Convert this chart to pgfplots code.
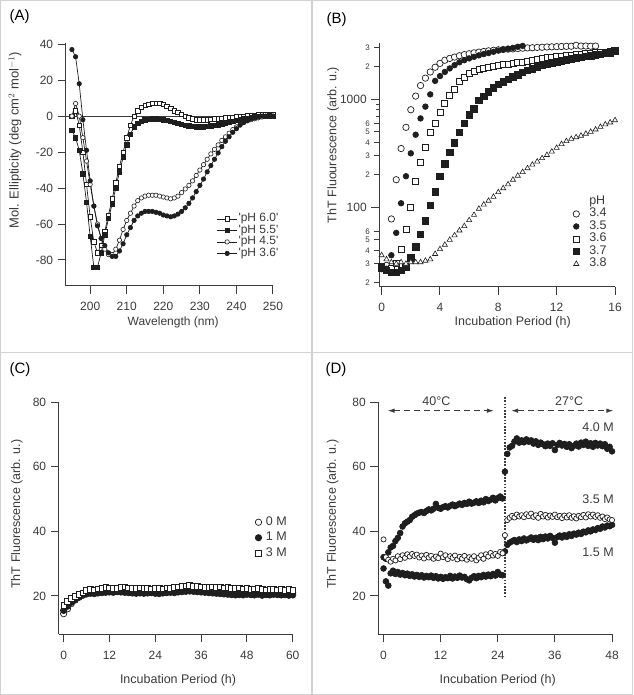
\documentclass[border=0pt]{standalone}
\usepackage{fontspec}
\setmainfont{Liberation Sans}
\usepackage{pgfplots}
\pgfplotsset{compat=1.18}
\usetikzlibrary{arrows.meta}

\definecolor{axc}{HTML}{3C3C3C}
\definecolor{txc}{HTML}{3A3A3A}
\definecolor{mk}{HTML}{1E1E1E}
\definecolor{frm}{HTML}{D2D2D2}

\newcommand{\lblfont}{\fontsize{12.5}{14}\selectfont}
\pgfplotsset{
  panel/.style={scale only axis, axis x line*=bottom, axis y line*=left,
    tick align=outside, major tick length=8pt,
    axis line style={axc, line width=1pt},
    every tick/.style={axc, line width=1pt},
    /pgf/number format/assume math mode=true,
    tick label style={font=\fontsize{12}{14}\selectfont, text=txc},
    xticklabel style={yshift=-5pt},
    yticklabel style={xshift=-1pt},
    clip=false},
  ptleg/.style={legend style={draw=none, fill=none, font=\lblfont, text=txc,
      legend cell align=left, inner sep=0pt, row sep=0pt,
      nodes={inner sep=1pt, text height=8pt, text depth=2.5pt}}},
}

\begin{document}
\begin{tikzpicture}
\path[use as bounding box] (0pt,0pt) rectangle (633pt,695pt);
\draw[frm, line width=1.3pt] (0.7pt,0.7pt) rectangle (632.3pt,694.3pt);
\draw[frm, line width=1.3pt] (312pt,0pt) -- (312pt,695pt);
\draw[frm, line width=1.3pt] (0pt,342.3pt) -- (633pt,342.3pt);

\node[anchor=west, font=\fontsize{15}{17}\selectfont] at (6pt,678pt) {(A)};
\node[anchor=west, font=\fontsize{15}{17}\selectfont] at (323pt,675.5pt) {(B)};
\node[anchor=west, font=\fontsize{15}{17}\selectfont] at (6pt,325.5pt) {(C)};
\node[anchor=west, font=\fontsize{15}{17}\selectfont] at (322pt,325pt) {(D)};

% (A) CD spectra
\begin{axis}[panel, at={(65.7pt,409.3pt)}, anchor=south west,
  width=207.3pt, height=242.4pt,
  xmin=193.3, xmax=250, ymin=-94.3, ymax=40.5,
  xtick={200,210,...,250}, ytick={-80,-60,...,40},
  xlabel={Wavelength (nm)},
  ylabel={Mol. Ellipticity (deg cm$^{2}$ mol$^{-1}$)},
  every axis x label/.style={at={(rel axis cs:0.518,-0.153)}, anchor=center, font=\fontsize{12}{14}\selectfont, text=txc},
  every axis y label/.style={at={(rel axis cs:-0.245,0.6)}, anchor=center, rotate=90, font=\fontsize{13}{15}\selectfont, text=txc},
  legend style={at={(rel axis cs:0.728,0.30)}, anchor=north west, draw=none, fill=none,
    font=\fontsize{12}{14}\selectfont, text=txc, legend cell align=left, inner sep=0pt,
    nodes={inner sep=1pt, text height=7.5pt, text depth=2pt}},
  legend image code/.code={\draw[mark repeat=2,mark phase=2,#1] plot coordinates {(0pt,0pt) (10pt,0pt) (20pt,0pt)};},
  every axis plot/.append style={mk, line width=0.7pt, mark size=2.2pt}]
\addplot[axc, line width=0.9pt, forget plot] coordinates {(193.3,0) (250,0)};
\addplot[mark=square*, mark options={fill=white, line width=0.6pt}] coordinates {
(195,0)(196,3)(197,-5)(198,-20)(199,-38)(200,-56)(201,-70)(202,-76)(203,-72)(204,-64)
(205,-55)(206,-46)(207,-37)(208,-28)(209,-20)(210,-12)(211,-5)(212,0)(213,3)(214,5)
(215,6)(216,6.5)(217,7)(218,7)(219,7)(220,6.5)(221,5.5)(222,4.5)(223,3)(224,2)
(225,1)(226,0)(227,-1)(228,-1.5)(229,-2)(230,-2)(231,-2)(232,-2)(233,-1.8)(234,-1.6)
(235,-1.4)(236,-1.2)(237,-1)(238,-0.8)(239,-0.6)(240,-0.4)(241,-0.2)(242,0)(243,0.2)(244,0.4)
(245,0.6)(246,0.8)(247,1)(248,1)(249,1)(250,1)};
\addlegendentry{\textquotesingle pH 6.0\textquotesingle}
\addplot[mark=square*, mark options={fill=mk}] coordinates {
(195,-8)(196,-12)(197,-19)(198,-32)(199,-48)(200,-67)(201,-84)(202,-84)(203,-76)(204,-66)
(205,-57)(206,-49)(207,-40)(208,-31)(209,-23)(210,-16)(211,-10)(212,-6)(213,-4)(214,-3)
(215,-2)(216,-1.8)(217,-1.5)(218,-1.5)(219,-1.8)(220,-2)(221,-2.5)(222,-3)(223,-3.5)(224,-4)
(225,-4.5)(226,-5)(227,-5.5)(228,-5.8)(229,-6)(230,-6)(231,-6)(232,-5.8)(233,-5.5)(234,-5.2)
(235,-4.8)(236,-4.4)(237,-4)(238,-3.5)(239,-3)(240,-2.5)(241,-2)(242,-1.5)(243,-1.2)(244,-0.8)
(245,-0.5)(246,-0.2)(247,0)(248,0)(249,0.2)(250,0)};
\addlegendentry{\textquotesingle pH 5.5\textquotesingle}
\addplot[mark=*, mark options={fill=white, line width=0.6pt}] coordinates {
(195,0)(196,7)(197,0)(198,-12)(199,-25)(200,-38)(201,-50)(202,-60)(203,-68)(204,-74)
(205,-77)(206,-77)(207,-74)(208,-69)(209,-63)(210,-58)(211,-54)(212,-50)(213,-47)(214,-45.5)
(215,-44.5)(216,-44)(217,-44)(218,-44)(219,-44.5)(220,-45)(221,-45.5)(222,-46)(223,-45.5)(224,-44.5)
(225,-42.5)(226,-40.5)(227,-38.5)(228,-36)(229,-33)(230,-30)(231,-27)(232,-24)(233,-21)(234,-18.5)
(235,-16)(236,-13.5)(237,-11.5)(238,-9.5)(239,-7.5)(240,-6)(241,-4.8)(242,-3.6)(243,-2.6)(244,-2)
(245,-1.5)(246,-1)(247,-0.5)(248,0)(249,0)(250,0)};
\addlegendentry{\textquotesingle pH 4.5\textquotesingle}
\addplot[mark=*, mark options={fill=mk}] coordinates {
(195,37)(196,33)(197,18)(198,-2)(199,-19)(200,-36)(201,-50)(202,-61)(203,-68)(204,-72)
(205,-76)(206,-78)(207,-78)(208,-75)(209,-71)(210,-66)(211,-62)(212,-58)(213,-55.5)(214,-54)
(215,-53)(216,-53)(217,-53)(218,-53.5)(219,-54)(220,-55)(221,-55.5)(222,-56)(223,-55.5)(224,-54.5)
(225,-53)(226,-51)(227,-48.5)(228,-45.5)(229,-42)(230,-38.5)(231,-35)(232,-31)(233,-27.5)(234,-24)
(235,-20.5)(236,-17)(237,-14)(238,-11.5)(239,-9)(240,-7)(241,-5)(242,-3.5)(243,-2.5)(244,-1.5)
(245,-1)(246,-0.5)(247,0)(248,0)(249,0)(250,0)};
\addlegendentry{\textquotesingle pH 3.6\textquotesingle}
\end{axis}

% (B) ThT kinetics vs pH
\begin{axis}[panel, ptleg, at={(379.3pt,408pt)}, anchor=south west,
  width=235.7pt, height=244pt, ymode=log,
  xmin=-0.16, xmax=16, ymin=18.3, ymax=3320,
  xtick={0,4,...,16}, ytick={100,1000}, yticklabels={100,1000},
  extra y ticks={20,30,40,50,60,200,300,400,500,600,2000,3000},
  extra y tick labels={2,3,4,5,6,2,3,4,5,6,2,3},
  extra y tick style={major tick length=5pt, tick label style={font=\fontsize{8}{9}\selectfont}},
  xlabel={Incubation Period (h)},
  ylabel={ThT Fluourescence (arb. u.)},
  every axis x label/.style={at={(rel axis cs:0.566,-0.146)}, anchor=center, font=\lblfont, text=txc},
  every axis y label/.style={at={(rel axis cs:-0.196,0.582)}, anchor=center, rotate=90, font=\lblfont, text=txc},
  legend style={at={(rel axis cs:0.82,0.377)}, anchor=north west},
  legend image code/.code={\draw[#1] plot coordinates {(0pt,0pt)}; \path[draw=none, fill=none] (-3.5pt,-0.1pt) rectangle (12pt,0.1pt);},
  every axis plot/.append style={mk, only marks, line width=0.7pt}]
\addlegendimage{empty legend}
\addlegendentry{pH}
\addplot[mark=*, mark size=3.2pt, mark options={fill=white}] coordinates {
(0,27)(0.333,29)(0.667,78)(1,180)(1.333,350)(1.667,550)(2,800)(2.333,1070)(2.667,1340)(3,1570)
(3.333,1790)(3.667,1980)(4,2150)(4.333,2300)(4.667,2390)(5,2460)(5.333,2530)(5.667,2590)(6,2640)(6.333,2690)
(6.667,2730)(7,2770)(7.333,2810)(7.667,2840)(8,2870)(8.333,2890)(8.667,2910)(9,2930)(9.333,2950)(9.667,2970)
(10,2990)(10.333,3000)(10.667,3020)(11,3030)(11.333,3050)(11.667,3060)(12,3070)(12.333,3080)(12.667,3090)(13,3100)
(13.333,3160)(13.667,3110)(14,3110)(14.333,3100)(14.667,3110)};
\addlegendentry{3.4}
\addplot[mark=*, mark size=2.8pt, mark options={fill=mk}] coordinates {
(0,28)(0.333,27)(0.667,36)(1,58)(1.333,109)(1.667,194)(2,316)(2.333,470)(2.667,665)(3,855)
(3.333,1110)(3.667,1480)(4,1640)(4.333,1790)(4.667,1930)(5,2070)(5.333,2200)(5.667,2300)(6,2390)(6.333,2470)
(6.667,2550)(7,2620)(7.333,2680)(7.667,2750)(8,2820)(8.333,2880)(8.667,2940)(9,2990)(9.333,3060)(9.667,3120)};
\addlegendentry{3.5}
\addplot[mark=square*, mark size=3pt, mark options={fill=white}] coordinates {
(0,27)(0.333,26)(0.667,27)(1,30)(1.333,41)(1.667,62)(2,100)(2.333,174)(2.667,260)(3,362)
(3.333,494)(3.667,604)(4,758)(4.333,912)(4.667,1097)(5,1238)(5.333,1459)(5.667,1600)(6,1740)(6.333,1814)
(6.667,1900)(7,1950)(7.333,1990)(7.667,2030)(8,2060)(8.333,2090)(8.667,2120)(9,2150)(9.333,2180)(9.667,2220)
(10,2260)(10.333,2300)(10.667,2340)(11,2380)(11.333,2420)(11.667,2450)(12,2480)(12.333,2510)(12.667,2540)(13,2570)
(13.333,2600)(13.667,2630)(14,2660)(14.333,2680)(14.667,2700)(15,2720)(15.333,2740)(15.667,2770)(16,2800)};
\addlegendentry{3.6}
\addplot[mark=square*, mark size=3.2pt, mark options={fill=mk}] coordinates {
(0,28)(0.333,26)(0.667,25)(1,25)(1.333,26)(1.667,28)(2,34)(2.333,43)(2.667,56)(3,75)
(3.333,104)(3.667,139)(4,194)(4.333,252)(4.667,323)(5,394)(5.333,494)(5.667,600)(6,716)(6.333,813)
(6.667,972)(7,1059)(7.333,1170)(7.667,1274)(8,1368)(8.333,1446)(8.667,1530)(9,1611)(9.333,1680)(9.667,1765)
(10,1856)(10.333,1920)(10.667,1990)(11,2050)(11.333,2110)(11.667,2170)(12,2220)(12.333,2270)(12.667,2320)(13,2370)
(13.333,2410)(13.667,2450)(14,2490)(14.333,2530)(14.667,2570)(15,2610)(15.333,2650)(15.667,2700)(16,2800)};
\addlegendentry{3.7}
\addplot[mark=triangle*, mark size=3pt, mark options={fill=white, line width=0.6pt}] coordinates {
(0,36)(0.333,33)(0.667,31)(1,30)(1.333,31)(1.667,30)(2,31)(2.333,31)(2.667,31)(3,32)
(3.333,33)(3.667,37)(4,41)(4.333,45)(4.667,50)(5,55)(5.333,61)(5.667,67)(6,76)(6.333,85)
(6.667,97)(7,106)(7.333,115)(7.667,125)(8,138)(8.333,150)(8.667,163)(9,180)(9.333,196)(9.667,212)
(10,230)(10.333,248)(10.667,265)(11,285)(11.333,305)(11.667,328)(12,355)(12.333,385)(12.667,410)(13,430)
(13.333,445)(13.667,460)(14,480)(14.333,500)(14.667,525)(15,555)(15.333,585)(15.667,610)(16,640)};
\addlegendentry{3.8}
\end{axis}

% (C) ThT vs denaturant
\begin{axis}[panel, ptleg, at={(58.7pt,60.7pt)}, anchor=south west,
  width=234pt, height=232pt,
  xmin=-1.3, xmax=60, ymin=8.1, ymax=80,
  xtick={0,12,...,60}, ytick={20,40,60,80},
  xlabel={Incubation Period (h)},
  ylabel={ThT Fluorescence (arb. u.)},
  every axis x label/.style={at={(rel axis cs:0.51,-0.197)}, anchor=center, font=\lblfont, text=txc},
  every axis y label/.style={at={(rel axis cs:-0.179,0.518)}, anchor=center, rotate=90, font=\lblfont, text=txc},
  legend style={at={(rel axis cs:0.838,0.514)}, anchor=north west,
    nodes={inner sep=1pt, text height=9pt, text depth=3pt}, row sep=1.5pt},
  legend image code/.code={\draw[#1] plot coordinates {(0pt,0pt)}; \path[draw=none, fill=none] (-3.5pt,-0.1pt) rectangle (6.5pt,0.1pt);},
  every axis plot/.append style={mk, only marks, line width=0.7pt, mark size=3.2pt}]
\addplot[mark=*, mark options={fill=white}] coordinates {
(0,14.5)(1,16)(2,17.6)(3,18.7)(4,19.6)(5,20.4)(6,21)(7,21.2)(8,21.1)(9,21.4)
(10,21.6)(11,21.5)(12,21.8)(13,21.6)(14,21.5)(15,21.7)(16,21.9)(17,21.6)(18,21.4)(19,21.3)
(20,21.2)(21,21.5)(22,21.4)(23,21.6)(24,21.3)(25,21.2)(26,21.5)(27,21.4)(28,21.6)(29,21.8)
(30,21.9)(31,22)(32,22.1)(33,22.2)(34,22)(35,21.9)(36,21.8)(37,21.6)(38,21.5)(39,21.3)
(40,21.2)(41,21.3)(42,21.1)(43,21.2)(44,21)(45,21.1)(46,20.9)(47,21)(48,21.2)(49,21)
(50,21.1)(51,21.3)(52,21.1)(53,20.9)(54,21.2)(55,21.3)(56,21.1)(57,21)(58,21.2)(59,21)(60,21.1)};
\addlegendentry{0 M}
\addplot[mark=*, mark options={fill=mk}] coordinates {
(0,15.5)(1,16.8)(2,18)(3,18.9)(4,19.6)(5,20.2)(6,20.6)(7,20.8)(8,20.7)(9,20.9)
(10,21)(11,21.1)(12,21.2)(13,21.1)(14,21.3)(15,21.2)(16,21.1)(17,21)(18,20.9)(19,20.8)
(20,20.9)(21,20.8)(22,20.9)(23,21)(24,20.8)(25,20.7)(26,20.9)(27,21)(28,21.1)(29,21)
(30,21.2)(31,21.3)(32,21.4)(33,21.5)(34,21.4)(35,21.3)(36,21.2)(37,21.1)(38,21)(39,20.9)
(40,20.8)(41,20.7)(42,20.6)(43,20.5)(44,20.4)(45,20.3)(46,20.4)(47,20.3)(48,20.5)(49,20.4)
(50,20.3)(51,20.5)(52,20.2)(53,20.4)(54,20.3)(55,20.5)(56,20.4)(57,20.3)(58,20.4)(59,20.2)(60,20.3)};
\addlegendentry{1 M}
\addplot[mark=square*, mark size=2.8pt, mark options={fill=white}] coordinates {
(0,17)(1,18.3)(2,19.2)(3,19.8)(4,20.4)(5,21)(6,21.7)(7,22)(8,21.9)(9,22.2)
(10,22.4)(11,22.6)(12,22.5)(13,22.4)(14,22.3)(15,22.7)(16,22.8)(17,22.5)(18,22.4)(19,22.3)
(20,22.5)(21,22.4)(22,22.3)(23,22.2)(24,22.4)(25,22.3)(26,22.2)(27,22.5)(28,22.4)(29,22.6)
(30,22.8)(31,23)(32,23.1)(33,23.2)(34,23)(35,22.9)(36,22.8)(37,22.6)(38,22.7)(39,22.8)
(40,22.6)(41,22.8)(42,22.5)(43,22.6)(44,22.4)(45,22.3)(46,22.5)(47,22.2)(48,22.3)(49,22.1)
(50,22.2)(51,22.4)(52,22)(53,21.9)(54,22.1)(55,22)(56,21.9)(57,22.1)(58,21.8)(59,22)(60,21.8)};
\addlegendentry{3 M}
\end{axis}

% (D) temperature shift
\begin{axis}[panel, at={(378.3pt,60.7pt)}, anchor=south west,
  width=233.7pt, height=232pt,
  xmin=-1.1, xmax=48, ymin=8.1, ymax=80,
  xtick={0,12,...,48}, ytick={20,40,60,80},
  xlabel={Incubation Period (h)},
  ylabel={ThT Fluorescence (arb. u.)},
  every axis x label/.style={at={(rel axis cs:0.511,-0.197)}, anchor=center, font=\lblfont, text=txc},
  every axis y label/.style={at={(rel axis cs:-0.195,0.518)}, anchor=center, rotate=90, font=\lblfont, text=txc},
  every axis plot/.append style={mk, only marks, line width=0.7pt}]
\addplot[mark=*, mark size=2.9pt, mark options={fill=mk}] coordinates {
(0,32)(0.5,31.5)(1,33.5)(1.5,35)(2,35.5)(2.5,37)(3,38)(3.5,39.5)(4,41.5)(4.5,42.5)
(5,43)(5.5,43.5)(6,44.5)(6.5,45)(7,45.5)(7.5,45.8)(8,46)(8.5,45.7)(9,46.3)(9.5,46.8)
(10,46.5)(10.5,47)(11,48.5)(11.5,47.3)(12,47)(12.5,47.5)(13,47.8)(13.5,47.4)(14,47.9)(14.5,48.3)
(15,47.8)(15.5,48.2)(16,48.6)(16.5,48.2)(17,48.8)(17.5,48.5)(18,49.2)(18.5,48.6)(19,48.9)(19.5,49.3)
(20,48.8)(20.5,49.5)(21,49)(21.5,50)(22,49.4)(22.5,49.8)(23,50.4)(23.5,49.6)(24,50.3)(24.5,50.8)(25,50.2)
(25.5,58.5)(26,64)(26.5,66)(27,66.5)(27.5,67.8)(28,68.8)(28.5,67.5)(29,68.2)(29.5,67.6)(30,68.5)
(30.5,67.8)(31,68.2)(31.5,67.2)(32,67.9)(32.5,66.8)(33,67.5)(33.5,67)(34,66.4)(34.5,67.2)(35,66.5)
(35.5,67.3)(36,65.2)(36.5,66.8)(37,67.4)(37.5,66.6)(38,67.1)(38.5,66.2)(39,67)(39.5,65.8)(40,66.5)
(40.5,67.2)(41,66.3)(41.5,67.5)(42,66.8)(42.5,67.8)(43,66.5)(43.5,67.3)(44,66.2)(44.5,67.4)(45,66.6)
(45.5,67.2)(46,66.4)(46.5,67)(47,65.6)(47.5,66.2)(48,64.8)};
\addplot[mark=*, mark size=2.9pt, mark options={fill=mk}] coordinates {
(0,28.5)(0.5,24.5)(1,23.2)(1.5,27)(2,27.8)(2.5,26.8)(3,27.4)(3.5,26.6)(4,27.1)(4.5,26.4)
(5,26.9)(5.5,26.2)(6,26.7)(6.5,26)(7,26.5)(7.5,25.9)(8,26.4)(8.5,25.7)(9,26.2)(9.5,25.8)
(10,26.3)(10.5,25.6)(11,26.1)(11.5,25.4)(12,25.9)(12.5,25.3)(13,25.8)(13.5,25.5)(14,26.2)(14.5,25.4)
(15,26)(15.5,25.6)(16,26.3)(16.5,25.7)(17,25.9)(17.5,25.2)(18,24.8)(18.5,25.6)(19,26.1)(19.5,25.5)
(20,26.2)(20.5,25.8)(21,26.5)(21.5,26)(22,26.6)(22.5,26.1)(23,26.8)(23.5,26.3)(24,27.4)(24.5,26.6)(25,26.4)
(25.5,33.8)(26,35.8)(26.5,36.5)(27,36.9)(27.5,37.3)(28,36.7)(28.5,37.5)(29,37)(29.5,37.8)(30,37.2)
(30.5,37.6)(31,38.1)(31.5,37.4)(32,38)(32.5,37.3)(33,38.3)(33.5,37.6)(34,38.4)(34.5,37.8)(35,38.6)
(35.5,38)(36,36.5)(36.5,38.2)(37,38.7)(37.5,38.1)(38,38.8)(38.5,38.3)(39,39.1)(39.5,38.6)(40,39.3)
(40.5,39)(41,39.6)(41.5,39.2)(42,39.9)(42.5,39.7)(43,40.3)(43.5,40)(44,40.6)(44.5,40.4)(45,41)
(45.5,40.8)(46,41.5)(46.5,41.2)(47,41.8)(47.5,41.6)(48,42)};
\addplot[mark=*, mark size=2.6pt, mark options={fill=white}] coordinates {
(0,37.5)(0.5,32)(1,31.2)(1.5,30.6)(2,31.5)(2.5,31)(3,32.3)(3.5,31.4)(4,32.6)(4.5,31.8)
(5,32.9)(5.5,32.2)(6,33)(6.5,32.4)(7,32.8)(7.5,31.9)(8,32.5)(8.5,31.6)(9,32.7)(9.5,31.9)
(10,32.4)(10.5,31.5)(11,32.2)(11.5,31.7)(12,33.1)(12.5,32)(13,32.6)(13.5,31.4)(14,32.3)(14.5,31.8)
(15,32.5)(15.5,31.3)(16,32.1)(16.5,31.6)(17,32.4)(17.5,31.2)(18,32)(18.5,31.5)(19,32.3)(19.5,31)
(20,31.8)(20.5,32.6)(21,31.5)(21.5,32.9)(22,32.2)(22.5,33.3)(23,32.5)(23.5,33)(24,32.4)(24.5,33.6)(25,33.2)
(25.5,38.8)(26,43.5)(26.5,44.2)(27,44.8)(27.5,44.3)(28,45.2)(28.5,44.6)(29,45)(29.5,44.4)(30,45.3)
(30.5,44.7)(31,45.5)(31.5,44.5)(32,45)(32.5,44.2)(33,45.4)(33.5,44.6)(34,45.1)(34.5,44.3)(35,44.9)
(35.5,44.5)(36,45.2)(36.5,44.4)(37,44.8)(37.5,44.1)(38,44.9)(38.5,44.3)(39,45)(39.5,44.2)(40,44.7)
(40.5,44)(41,44.8)(41.5,44.4)(42,45.1)(42.5,44.3)(43,45.3)(43.5,44.6)(44,45.2)(44.5,44.5)(45,45)
(45.5,44.2)(46,44.6)(46.5,43.8)(47,44.3)(47.5,43.7)(48,43.5)};
\draw[axc, line width=1.5pt, dash pattern=on 1.5pt off 1.7pt] (axis cs:25.5,19.6) -- (axis cs:25.5,81.5);
\draw[axc, line width=1.1pt, dash pattern=on 6pt off 4pt, {Latex[length=7pt,width=4.5pt]}-{Latex[length=7pt,width=4.5pt]}]
  (axis cs:0.84,77.4) -- (axis cs:23.2,77.4);
\draw[axc, line width=1.1pt, dash pattern=on 6pt off 4pt, {Latex[length=7pt,width=4.5pt]}-{Latex[length=7pt,width=4.5pt]}]
  (axis cs:26.8,77.4) -- (axis cs:48.3,77.4);
\node[font=\lblfont, text=txc] at (axis cs:11.1,80.4) {40°C};
\node[font=\lblfont, text=txc] at (axis cs:39,80.4) {27°C};
\node[anchor=east, font=\lblfont, text=txc] at (axis cs:49.1,72.3) {4.0 M};
\node[anchor=east, font=\lblfont, text=txc] at (axis cs:49.1,50) {3.5 M};
\node[anchor=east, font=\lblfont, text=txc] at (axis cs:49.1,33.4) {1.5 M};
\end{axis}
\end{tikzpicture}
\end{document}
